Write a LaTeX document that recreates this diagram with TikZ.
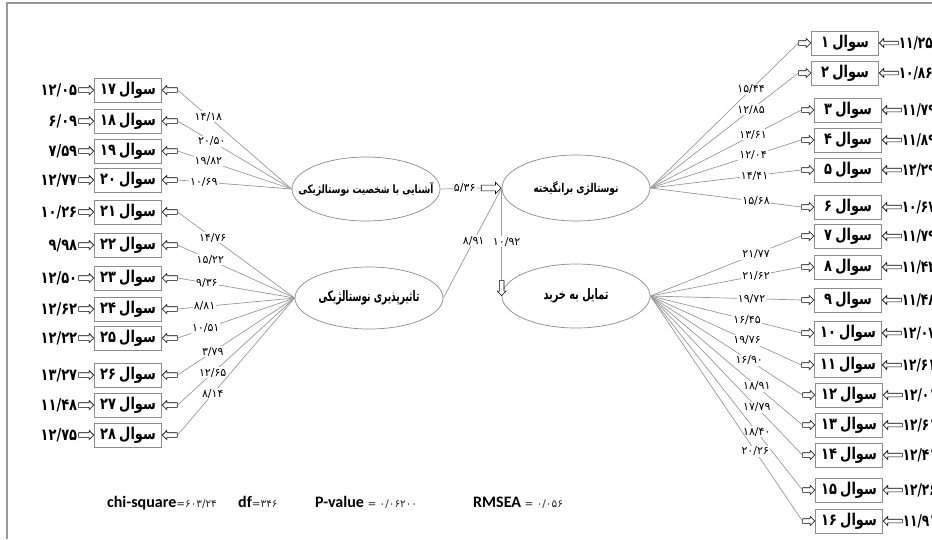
\documentclass[tikz,border=0pt]{standalone}
\usepackage{fontspec}
\setmainfont{DejaVu Sans}
\newfontfamily\fa[Script=Arabic]{DejaVu Sans}
\newfontfamily\dv{DejaVu Sans}
\newfontfamily\latf{Carlito}
\TeXXeTstate=1
\usetikzlibrary{shapes.arrows,shapes.geometric}
\newcommand{\tall}[1]{\scalebox{1}[1.25]{#1}}
\newcommand{\qlab}[1]{\tall{\hbox{#1}\hspace{0.25em}\hbox{سوال}}}
\newcommand{\elab}[2]{\makebox[0pt]{\resizebox{#1}{11pt}{#2}}}
\tikzset{
 every node/.style={inner sep=0pt},
 qbox/.style={draw=black!45, line width=0.8pt, minimum width=67pt, minimum height=24pt, fill=white, font=\fa\bfseries\fontsize{13}{15}\selectfont},
 latent/.style={draw=black!45, line width=0.7pt, ellipse, minimum width=148pt, minimum height=64pt, font=\fa\bfseries\fontsize{10.5}{12}\selectfont},
 link/.style={draw=black!40, line width=0.7pt},
 ld/.style={fill=white, inner sep=1pt, font=\dv\fontsize{11}{12}\selectfont},
 errn/.style={font=\dv\bfseries\fontsize{13}{15}\selectfont},
 barr/.style={single arrow, draw=black, fill=white, line width=0.6pt, inner xsep=0pt, inner ysep=2pt, minimum height=15pt, single arrow head extend=2.2pt},
 barrlong/.style={barr, minimum height=19pt, inner ysep=1.5pt, single arrow head extend=2.6pt},
 stat/.style={font=\latf\bfseries\fontsize{16}{18}\selectfont},
}
\newcommand{\statn}[1]{{\dv\mdseries\fontsize{10.5}{12}\selectfont\color{black!85}#1}}
\newcommand{\litem}[7]{%
 \node[qbox] (q#1) at (128,#2) {\qlab{#3}};
 \node[barr, rotate=180, anchor=tip] (i#1) at (q#1.east) {};
 \node[barr, anchor=tip] (o#1) at (q#1.west) {};
 \node[errn, anchor=east, xshift=-1pt] (n#1) at (o#1.tail) {\tall{#4}};
 \draw[link] (#7) -- node[ld,pos=#6]{#5} (i#1.tail);
}
\newcommand{\ritem}[8]{%
 \node[qbox] (q#1) at (#2,#3) {\qlab{#4}};
 \node[barr, minimum height=12pt, anchor=tip] (i#1) at (q#1.west) {};
 \node[barrlong, rotate=180, anchor=tip] (o#1) at (q#1.east) {};
 \node[errn, anchor=west, xshift=0pt] (n#1) at (o#1.tail) {\scalebox{0.93}[1.25]{#5}};
 \draw[link] (#8) -- node[ld,pos=#7]{#6} (i#1.tail);
}
\begin{document}
\begin{tikzpicture}[x=1pt,y=-1pt]
\useasboundingbox (0,0) rectangle (932,539);
\fill[white] (0,0) rectangle (932,539);
\draw[black!40, line width=1.2pt] (7,539) -- (7,3) -- (932,3);

% latent variables
\node[latent] (e1) at (366,189) {\elab{135pt}{\beginR آشنایی با شخصیت نوستالژیکی\endR}};
\node[latent, minimum height=62pt] (e2) at (369,298) {\elab{101pt}{\beginR تاثیرپذیری نوستالژیکی\endR}};
\node[latent, minimum height=66pt] (e3) at (576,188) {\elab{85pt}{\beginR نوستالژی برانگیخته\endR}};
\node[latent, minimum height=64pt] (e4) at (576,296) {\elab{65pt}{\beginR تمایل به خرید\endR}};

% structural paths
\node[barr, minimum height=20pt, inner ysep=2.6pt, single arrow head extend=2.8pt, anchor=tip] (a13) at (e3.west) {};
\draw[link] (e1.east) -- node[ld, pos=0.6]{۵/۳۶} (a13.tail);
\draw[link] (e2.east) -- node[ld, pos=0.52]{۸/۹۱} (e3.west);
\node[barr, rotate=-90, anchor=tip] (a34) at (e4.west) {};
\draw[link] (e3.west) -- node[ld, pos=0.58, xshift=5pt]{۱۰/۹۲} (a34.tail);

% left indicators
\litem{17}{90}{۱۷}{۱۲/۰۵}{۱۴/۱۸}{0.73}{e1.west}
\litem{18}{121}{۱۸}{۶/۰۹}{۲۰/۵۰}{0.70}{e1.west}
\litem{19}{151}{۱۹}{۷/۵۹}{۱۹/۸۲}{0.73}{e1.west}
\litem{20}{180}{۲۰}{۱۲/۷۷}{۱۰/۶۹}{0.77}{e1.west}
\litem{21}{212}{۲۱}{۱۰/۲۶}{۱۴/۷۶}{0.70}{e2.west}
\litem{22}{245}{۲۲}{۹/۹۸}{۱۵/۲۲}{0.72}{e2.west}
\litem{23}{278}{۲۳}{۱۲/۵۰}{۹/۳۶}{0.75}{e2.west}
\litem{24}{309}{۲۴}{۱۲/۶۲}{۸/۸۱}{0.77}{e2.west}
\litem{25}{338}{۲۵}{۱۲/۲۲}{۱۰/۵۱}{0.76}{e2.west}
\litem{26}{375}{۲۶}{۱۳/۲۷}{۳/۷۹}{0.70}{e2.west}
\litem{27}{405}{۲۷}{۱۱/۴۸}{۱۲/۶۵}{0.70}{e2.west}
\litem{28}{435}{۲۸}{۱۲/۷۵}{۸/۱۴}{0.70}{e2.west}

% right indicators
\ritem{1}{845}{43}{۱}{۱۱/۲۵}{۱۵/۴۴}{0.68}{e3.east}
\ritem{2}{845}{73}{۲}{۱۰/۸۶}{۱۲/۸۵}{0.68}{e3.east}
\ritem{3}{848}{110}{۳}{۱۱/۷۹}{۱۳/۶۱}{0.68}{e3.east}
\ritem{4}{848}{140}{۴}{۱۱/۸۹}{۱۲/۰۴}{0.68}{e3.east}
\ritem{5}{848}{170}{۵}{۱۲/۲۹}{۱۴/۴۱}{0.69}{e3.east}
\ritem{6}{848}{207}{۶}{۱۰/۶۷}{۱۵/۶۸}{0.70}{e3.east}
\ritem{7}{848}{236}{۷}{۱۱/۷۹}{۲۱/۷۷}{0.70}{e4.east}
\ritem{8}{848}{267}{۸}{۱۱/۴۲}{۲۱/۶۲}{0.70}{e4.east}
\ritem{9}{848}{300}{۹}{۱۱/۴۸}{۱۹/۷۲}{0.67}{e4.east}
\ritem{10}{848}{333}{۱۰}{۱۲/۰۷}{۱۶/۴۵}{0.64}{e4.east}
\ritem{11}{848}{365}{۱۱}{۱۲/۶۱}{۱۹/۷۶}{0.64}{e4.east}
\ritem{12}{849}{395}{۱۲}{۱۲/۰۱}{۱۶/۹۰}{0.65}{e4.east}
\ritem{13}{849}{425}{۱۳}{۱۲/۶۱}{۱۸/۹۱}{0.70}{e4.east}
\ritem{14}{849}{455}{۱۴}{۱۲/۴۱}{۱۷/۷۹}{0.70}{e4.east}
\ritem{15}{849}{490}{۱۵}{۱۲/۲۶}{۱۸/۴۰}{0.70}{e4.east}
\ritem{16}{849}{521}{۱۶}{۱۱/۹۱}{۲۰/۲۶}{0.69}{e4.east}

% fit statistics
\node[stat, anchor=base west] (s1) at (107,507) {chi-square\statn{=۶۰۳/۲۴}};
\node[stat, anchor=base west] (s2) at (238,507) {df\statn{=۳۴۶}};
\node[stat, anchor=base west] (s3) at (315,507) {P-value \statn{= ۰/۰۶۲۰۰}};
\node[stat, anchor=base west] (s4) at (473,507) {RMSEA \statn{= ۰/۰۵۶}};
\end{tikzpicture}
\end{document}
